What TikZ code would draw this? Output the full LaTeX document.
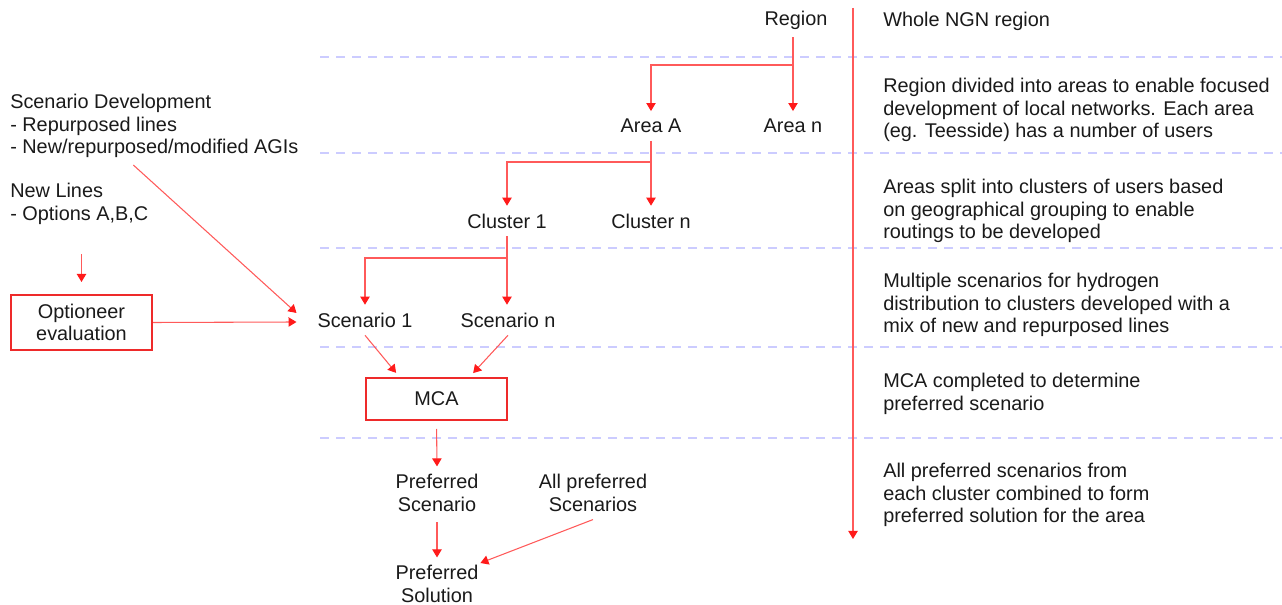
\documentclass[tikz,border=0pt]{standalone}
\usepackage{fontspec}
\setmainfont{Liberation Sans}
\usetikzlibrary{arrows.meta,calc}
\definecolor{linkred}{HTML}{FF5A5A}
\definecolor{tipred}{HTML}{FF1A1A}
\definecolor{boxred}{HTML}{EE2A2A}
\definecolor{sepblue}{HTML}{CCCCFF}
\definecolor{ink}{HTML}{1A1A1A}
\begin{document}
\begin{tikzpicture}[x=0.75pt,y=-0.75pt,
  every node/.style={font=\fontsize{14.9pt}{16.9pt}\selectfont, text=ink},
  lbl/.style={inner sep=0pt, outer sep=6pt, align=center},
  note/.style={inner sep=0pt, align=left, anchor=west},
  redbox/.style={draw=boxred, line width=1.5pt, inner sep=0pt, align=center},
  conn/.style={draw=linkred, line width=0.8pt,
    -{Triangle[length=6pt,width=7pt,color=tipred,fill=tipred]}},
  plain/.style={draw=linkred, line width=0.8pt},
  sepline/.style={draw=sepblue, line width=1.1pt, dash pattern=on 7pt off 5pt}]
\useasboundingbox (0,0) rectangle (1282,605);

% level separators
\foreach \yy in {57,153,248,347,438}
  \draw[sepline] (320,\yy) -- (1282,\yy);

% hierarchy
\node[lbl] (region) at (796,20) {Region};
\node[lbl] (areaA) at (651,126) {Area A};
\node[lbl] (arean) at (793,126) {Area n};
\node[lbl] (cl1) at (507,221) {Cluster 1};
\node[lbl] (cln) at (651,221) {Cluster n};
\node[lbl] (sc1) at (365,320) {Scenario 1};
\node[lbl] (scn) at (508,320) {Scenario n};
\node[redbox, minimum width=105.75pt, minimum height=31.5pt] (mca) at (436.5,399) {MCA};
\node[lbl] (prefsc) at (437,493) {Preferred\\Scenario};
\node[lbl] (allpref) at (593,493) {All preferred\\Scenarios};
\node[lbl] (prefsol) at (437,584) {Preferred\\Solution};

% inputs on the left
\node[note] (scdev) at (10,126) {Scenario Development\\- Repurposed lines\\- New/repurposed/modified AGIs};
\node[note] (newlines) at (10,204) {New Lines\\- Options A,B,C};
\node[redbox, minimum width=105.75pt, minimum height=41.25pt] (opt) at (81.5,322.5) {Optioneer\\evaluation};

% level descriptions
\node[note] (d1) at (883,21) {Whole NGN region};
\node[note] (d2) at (883,110) {Region divided into areas to enable focused\\development of local networks. Each area\\(eg. Teesside) has a number of users};
\node[note] (d3) at (883,211) {Areas split into clusters of users based\\on geographical grouping to enable\\routings to be developed};
\node[note] (d4) at (883,305) {Multiple scenarios for hydrogen\\distribution to clusters developed with a\\mix of new and repurposed lines};
\node[note] (d5) at (883,394) {MCA completed to determine\\preferred scenario};
\node[note] (d6) at (883,495) {All preferred scenarios from\\each cluster combined to form\\preferred solution for the area};

% progression axis
\coordinate (axtop) at (853,8);
\coordinate (axbot) at (853,539);
\draw[conn] (axtop) -- (axbot);

% region -> areas
\coordinate (j1) at (793,65);
\draw[plain] (region.south -| arean) -- (j1);
\draw[conn] (j1) -| (areaA.north);
\draw[conn] (j1) -- (arean.north);

% area -> clusters
\coordinate (j2) at (651,162);
\draw[plain] (areaA.south) -- (j2);
\draw[conn] (j2) -| (cl1.north);
\draw[conn] (j2) -- (j2 |- cln.north);

% cluster -> scenarios
\coordinate (j3) at (507,258);
\draw[plain] (cl1.south) -- (j3);
\draw[conn] (j3) -| (sc1.north);
\draw[conn] (j3) -- (j3 |- scn.north);

% scenarios -> MCA
\draw[conn, shorten >=4pt] (sc1.south) -- ($(mca.north)+(-37,0)$);
\draw[conn, shorten >=4pt] (scn.south) -- ($(mca.north)+(33,0)$);
\draw[conn, shorten <=6pt] (mca.south) -- (prefsc.north);
\draw[conn, shorten <=2pt] (prefsc.south) -- (prefsol.north);
\draw[conn] (allpref.south) -- ($(prefsol.east)+(-6,-21)$);

% left inputs -> scenarios
\draw[conn] ($(scdev.south)+(-21,7)$) -- ($(sc1.west)+(-13,-7)$);
\draw[conn, shorten <=22pt, shorten >=9pt] (newlines.south -| opt) -- (opt.north);
\draw[conn] (opt.east) -- ($(sc1.west)+(-13,2)$);
\end{tikzpicture}
\end{document}
